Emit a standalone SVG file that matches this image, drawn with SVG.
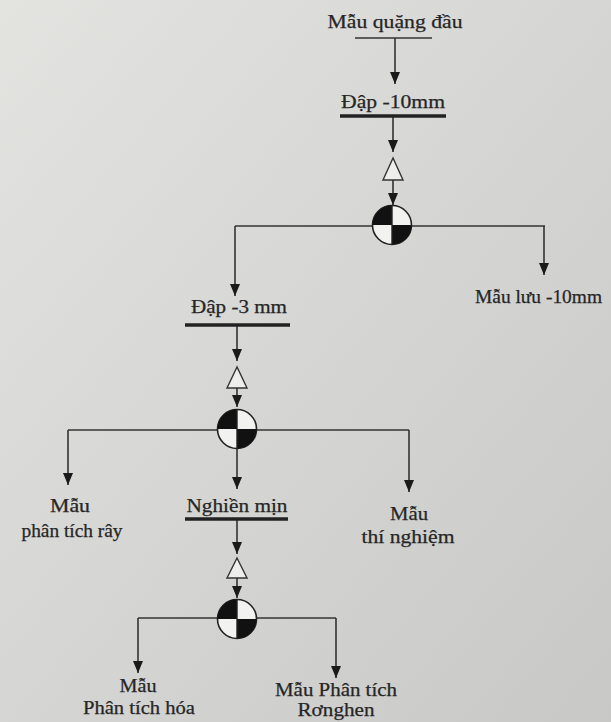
<svg xmlns="http://www.w3.org/2000/svg" width="611" height="722" viewBox="0 0 611 722">
<defs>
<linearGradient id="bg" x1="0" y1="0" x2="1" y2="1">
<stop offset="0" stop-color="#e3e3e0"/>
<stop offset="1" stop-color="#c8c9c7"/>
</linearGradient>
<marker id="ah" markerUnits="userSpaceOnUse" viewBox="0 0 12 10" refX="12" refY="5" markerWidth="12" markerHeight="10" orient="auto">
<path d="M0,0 L12,5 L0,10 z" fill="#1a1a1a"/>
</marker>
<g id="splitter">
<circle cx="0" cy="0" r="19.5" fill="#f2f2f0" stroke="#222" stroke-width="1.6"/>
<path d="M0,0 L-19.5,0 A19.5,19.5 0 0 1 0,-19.5 z" fill="#111"/>
<path d="M0,0 L19.5,0 A19.5,19.5 0 0 1 0,19.5 z" fill="#111"/>
<line x1="0" y1="-19.5" x2="0" y2="19.5" stroke="#222" stroke-width="1.4"/>
</g>
</defs>
<style>
text{font-family:"Liberation Serif","Times New Roman",serif;font-size:18px;fill:#262626;text-anchor:middle;stroke:#262626;stroke-width:0.25}
.c{fill:none;stroke:#333;stroke-width:1.6}
.arr{marker-end:url(#ah)}
.thin{stroke:#333;stroke-width:1.5}
.thick{stroke:#222;stroke-width:3.5}
.tri{fill:#eeeeec;stroke:#333;stroke-width:1.4}
</style>
<rect width="611" height="722" fill="url(#bg)"/>

<g id="connectors">
<line class="c arr" x1="395" y1="38" x2="395" y2="84"/>
<line class="c arr" x1="393" y1="117" x2="393" y2="152"/>
<line class="c arr" x1="393" y1="180" x2="393" y2="205"/>
<path class="c" d="M235,226 H545"/>
<line class="c arr" x1="235" y1="226" x2="235" y2="296"/>
<line class="c arr" x1="544" y1="226" x2="544" y2="275"/>
<line class="c arr" x1="237" y1="326" x2="237" y2="361"/>
<line class="c arr" x1="237" y1="388" x2="237" y2="407"/>
<path class="c" d="M68,430 H409"/>
<line class="c arr" x1="68" y1="430" x2="68" y2="485"/>
<line class="c arr" x1="237" y1="430" x2="237" y2="489"/>
<line class="c arr" x1="409" y1="430" x2="409" y2="492"/>
<line class="c arr" x1="237" y1="520" x2="237" y2="554"/>
<line class="c arr" x1="237" y1="578" x2="237" y2="598"/>
<path class="c" d="M138,618 H336"/>
<line class="c arr" x1="138" y1="618" x2="138" y2="673"/>
<line class="c arr" x1="336" y1="618" x2="336" y2="678"/>
</g>

<g id="n-mau-quang-dau">
<text x="395" y="28" textLength="135" lengthAdjust="spacingAndGlyphs">Mẫu quặng đầu</text>
<line class="thin" x1="355" y1="38" x2="432" y2="38"/>
</g>
<g id="n-dap-10">
<text x="393" y="108" textLength="104" lengthAdjust="spacingAndGlyphs">Đập -10mm</text>
<line class="thick" x1="340" y1="116" x2="446" y2="116"/>
</g>
<g id="n-tri-1"><polygon class="tri" points="393,158 383,180 403,180"/></g>
<g id="n-split-1"><use href="#splitter" x="392" y="225"/></g>
<g id="n-mau-luu">
<text x="475" y="303" textLength="127" lengthAdjust="spacingAndGlyphs" style="text-anchor:start">Mẫu lưu -10mm</text>
</g>
<g id="n-dap-3">
<text x="239" y="313" textLength="96" lengthAdjust="spacingAndGlyphs">Đập -3 mm</text>
<line class="thick" x1="185" y1="325" x2="290" y2="325"/>
</g>
<g id="n-tri-2"><polygon class="tri" points="237,367 227,388 247,388"/></g>
<g id="n-split-2"><use href="#splitter" x="237" y="429"/></g>
<g id="n-mau-ray">
<text x="70" y="512" textLength="40" lengthAdjust="spacingAndGlyphs">Mẫu</text>
<text x="72" y="537" textLength="101" lengthAdjust="spacingAndGlyphs">phân tích rây</text>
</g>
<g id="n-nghien">
<text x="237" y="512" textLength="101" lengthAdjust="spacingAndGlyphs">Nghiền mịn</text>
<line class="thick" x1="185" y1="519" x2="288" y2="519"/>
</g>
<g id="n-mau-tn">
<text x="409" y="520" textLength="38" lengthAdjust="spacingAndGlyphs">Mẫu</text>
<text x="408" y="543" textLength="93" lengthAdjust="spacingAndGlyphs">thí nghiệm</text>
</g>
<g id="n-tri-3"><polygon class="tri" points="237,558 227,578 247,578"/></g>
<g id="n-split-3"><use href="#splitter" x="237" y="619"/></g>
<g id="n-mau-hoa">
<text x="138" y="692" textLength="37" lengthAdjust="spacingAndGlyphs">Mẫu</text>
<text x="139" y="714" textLength="112" lengthAdjust="spacingAndGlyphs">Phân tích hóa</text>
</g>
<g id="n-mau-rong">
<text x="336" y="696" textLength="122" lengthAdjust="spacingAndGlyphs">Mẫu Phân tích</text>
<text x="336" y="716" textLength="77" lengthAdjust="spacingAndGlyphs">Rơnghen</text>
</g>
</svg>
